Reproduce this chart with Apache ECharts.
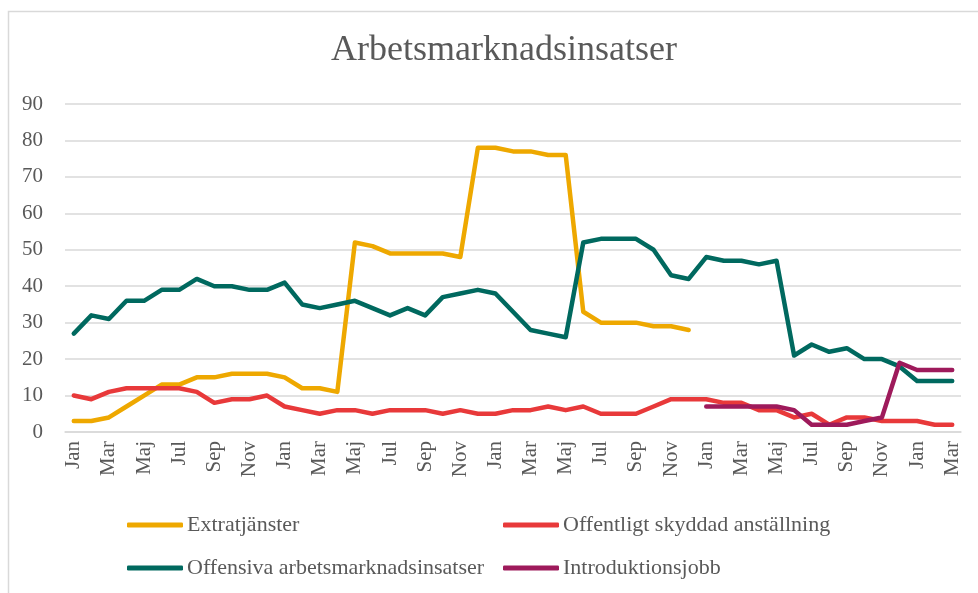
<!DOCTYPE html>
<html>
<head>
<meta charset="utf-8">
<script src="https://cdn.jsdelivr.net/npm/echarts@6/dist/echarts.min.js"></script>
<style>
  html, body { margin: 0; padding: 0; background: #fff; }
  #chart { width: 978px; height: 593px; }
</style>
</head>
<body>
<div id="chart"></div>
<script>
  var monthNames = ['Jan', 'Feb', 'Mar', 'Apr', 'Maj', 'Jun', 'Jul', 'Aug', 'Sep', 'Okt', 'Nov', 'Dec'];
  // Jan year 1 .. Mar year 5, 51 months
  var months = [];
  for (var i = 0; i < 51; i++) months.push(monthNames[i % 12]);

  var extratjanster = [3, 3, 4, 7, 10, 13, 13, 15, 15, 16, 16, 16, 15, 12, 12, 11, 52, 51,
    49, 49, 49, 49, 48, 78, 78, 77, 77, 76, 76, 33, 30, 30, 30, 29, 29, 28,
    null, null, null, null, null, null, null, null, null, null, null, null, null, null, null];
  var offentligt = [10, 9, 11, 12, 12, 12, 12, 11, 8, 9, 9, 10, 7, 6, 5, 6, 6, 5,
    6, 6, 6, 5, 6, 5, 5, 6, 6, 7, 6, 7, 5, 5, 5, 7, 9, 9,
    9, 8, 8, 6, 6, 4, 5, 2, 4, 4, 3, 3, 3, 2, 2];
  var offensiva = [27, 32, 31, 36, 36, 39, 39, 42, 40, 40, 39, 39, 41, 35, 34, 35, 36, 34,
    32, 34, 32, 37, 38, 39, 38, 33, 28, 27, 26, 52, 53, 53, 53, 50, 43, 42,
    48, 47, 47, 46, 47, 21, 24, 22, 23, 20, 20, 18, 14, 14, 14];
  var introduktionsjobb = [null, null, null, null, null, null, null, null, null, null, null, null,
    null, null, null, null, null, null, null, null, null, null, null, null, null, null, null, null,
    null, null, null, null, null, null, null, null,
    7, 7, 7, 7, 7, 6, 2, 2, 2, 3, 4, 19, 17, 17, 17];

  var font = '"Liberation Serif", "DejaVu Serif", serif';
  var textColor = '#595959';
  var gridColor = '#d9d9d9';

  function lineSeries(name, data, color) {
    return {
      name: name,
      type: 'line',
      data: data,
      symbol: 'none',
      connectNulls: false,
      lineStyle: { color: color, width: 4.5, cap: 'round', join: 'round' },
      itemStyle: { color: color }
    };
  }

  function legendColumn(names, left) {
    return {
      data: names,
      orient: 'vertical',
      left: left,
      top: 514,
      padding: 0,
      itemGap: 21,
      itemWidth: 56,
      itemHeight: 5,
      icon: 'roundRect',
      textStyle: { fontFamily: font, fontSize: 22, lineHeight: 22, color: textColor, padding: [0, 0, 0, -1] }
    };
  }

  var chart = echarts.init(document.getElementById('chart'));
  chart.setOption({
    backgroundColor: '#fff',
    animation: false,
    graphic: [{
      type: 'rect',
      shape: { x: 8.5, y: 11.5, width: 1000, height: 1000 },
      style: { fill: 'none', stroke: gridColor, lineWidth: 1.5 },
      silent: true
    }],
    title: {
      text: 'Arbetsmarknadsinsatser',
      left: 499,
      textAlign: 'center',
      top: 28,
      textStyle: { fontFamily: font, fontSize: 36, fontWeight: 'normal', color: textColor }
    },
    legend: [
      legendColumn(['Extratjänster', 'Offensiva arbetsmarknadsinsatser'], 127),
      legendColumn(['Offentligt skyddad anställning', 'Introduktionsjobb'], 503)
    ],
    grid: { left: 65, right: 17, top: 104, bottom: 161, containLabel: false },
    xAxis: {
      type: 'category',
      data: months,
      boundaryGap: true,
      axisLine: { lineStyle: { color: gridColor, width: 1.5 } },
      axisTick: { show: false },
      axisLabel: {
        interval: 1,
        rotate: 90,
        margin: 9,
        fontFamily: font,
        fontSize: 21,
        color: textColor
      }
    },
    yAxis: {
      type: 'value',
      min: 0,
      max: 90,
      interval: 10,
      axisLine: { show: false },
      axisTick: { show: false },
      splitLine: { lineStyle: { color: gridColor, width: 1.5 } },
      axisLabel: { margin: 22, fontFamily: font, fontSize: 21, color: textColor }
    },
    series: [
      lineSeries('Extratjänster', extratjanster, '#eea800'),
      lineSeries('Offentligt skyddad anställning', offentligt, '#e8393a'),
      lineSeries('Offensiva arbetsmarknadsinsatser', offensiva, '#00695f'),
      lineSeries('Introduktionsjobb', introduktionsjobb, '#9e1a5b')
    ]
  });
</script>
</body>
</html>
